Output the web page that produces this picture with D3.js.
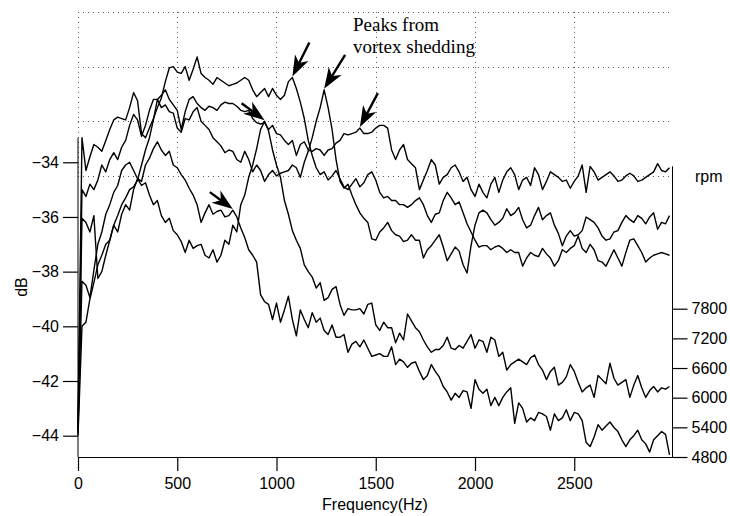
<!DOCTYPE html>
<html>
<head>
<meta charset="utf-8">
<script src="https://cdn.jsdelivr.net/npm/d3@7"></script>
<style>
  html, body { margin: 0; padding: 0; background: #fff; }
  svg { display: block; }
  .tick text, .axis-label { font-family: "Liberation Sans", Arial, Helvetica, sans-serif; font-size: 16px; fill: #000; }
  .note { font-family: "Liberation Serif", "Times New Roman", serif; font-size: 19px; fill: #000; }
</style>
</head>
<body>
<svg id="chart" width="730" height="516"></svg>
<script>
// Spectra sampled every 20 Hz from 0 to 2980 Hz (150 bins)
const freqStep = 20;
const frequencies = d3.range(0, 3000, freqStep);

// Spectrum levels in dB, one array per run (lowest to highest shedding frequency)
const seriesA = [
  -44.0, -40.0, -39.85, -39.0, -38.4, -37.75, -37.4, -37.0, -36.85, -36.3,
  -36.55, -35.9, -35.55, -35.75, -35.0, -34.6, -34.7, -34.1, -33.85, -33.5,
  -33.25, -33.55, -33.75, -33.6, -34.1, -34.2, -34.45, -34.65, -34.95, -35.2,
  -35.55, -36.2, -35.85, -35.55, -35.9, -35.8, -35.75, -36.0, -35.95, -35.75,
  -36.0, -36.4, -36.75, -37.2, -37.4, -37.65, -38.85, -39.1, -39.2, -39.75,
  -39.15, -39.85, -39.4, -38.9, -39.75, -40.35, -39.4, -39.75, -40.05, -39.5,
  -39.85, -39.7, -40.15, -40.3, -39.95, -40.4, -40.4, -40.3, -40.95, -40.65,
  -40.55, -40.75, -40.5, -40.8, -41.1, -41.05, -41.0, -41.1, -41.1, -40.75,
  -41.4, -41.2, -41.3, -41.5, -41.35, -41.3, -41.65, -41.95, -41.8, -41.4,
  -41.65, -41.85, -42.2, -42.4, -42.7, -42.45, -42.6, -42.35, -42.4, -43.0,
  -41.95, -42.3, -42.45, -42.3, -42.9, -42.6, -42.9, -42.6, -42.4, -42.25,
  -43.55, -42.8, -43.0, -43.5, -43.35, -43.45, -43.15, -43.2, -43.3, -43.8,
  -43.2, -43.45, -43.35, -43.05, -43.45, -43.15, -43.2, -43.45, -44.25, -44.4,
  -44.05, -43.6, -43.8, -43.65, -43.5, -43.7, -43.85, -44.15, -44.4, -44.15,
  -44.0, -43.8, -44.15, -44.3, -44.6, -44.15, -44.0, -43.85, -43.95, -44.7
];
const seriesB = [
  -43.8, -38.35, -38.5, -38.95, -37.95, -37.0, -36.55, -35.9, -35.55, -35.1,
  -34.85, -34.3, -34.1, -34.0, -34.3, -34.6, -34.85, -34.75, -35.2, -35.55,
  -35.4, -35.95, -36.2, -36.05, -36.5, -36.65, -36.9, -37.3, -36.85, -37.15,
  -37.05, -37.0, -37.4, -37.5, -37.2, -37.65, -37.4, -36.85, -37.0, -36.3,
  -36.55, -35.55, -35.2, -34.55, -34.1, -33.5, -32.8, -32.5, -32.85, -33.55,
  -34.1, -34.55, -35.4, -35.9, -36.5, -36.85, -37.15, -37.75, -38.0, -38.2,
  -38.6, -38.4, -39.05, -38.95, -38.65, -38.55, -39.2, -39.6, -39.35, -39.4,
  -39.4, -39.35, -39.55, -39.2, -39.15, -39.95, -40.15, -39.85, -40.05, -40.05,
  -40.6, -40.25, -40.5, -39.55, -39.8, -40.05, -40.2, -40.5, -40.75, -40.95,
  -40.85, -40.85, -40.7, -40.4, -40.8, -40.85, -40.7, -40.8, -40.55, -40.3,
  -40.8, -40.5, -40.55, -40.95, -40.4, -40.5, -41.1, -40.95, -41.6, -41.4,
  -41.3, -41.2, -41.3, -41.4, -41.15, -41.05, -41.4, -41.6, -41.95, -41.65,
  -41.5, -42.15, -42.05, -41.85, -41.4, -41.65, -42.05, -42.4, -42.25, -42.15,
  -42.6, -41.8, -41.95, -42.1, -41.35, -41.9, -42.15, -42.05, -41.95, -42.6,
  -42.15, -41.8, -42.25, -42.6, -42.35, -42.2, -42.4, -42.25, -42.3, -42.2
];
const seriesC = [
  -43.6, -33.1, -34.3, -33.8, -33.35, -33.45, -33.6, -33.2, -32.8, -32.45,
  -32.35, -32.4, -32.45, -32.0, -31.45, -31.75, -32.95, -33.1, -32.75, -32.4,
  -32.0, -31.65, -31.05, -30.55, -30.5, -30.7, -30.75, -30.5, -31.0, -30.6,
  -30.15, -30.75, -30.9, -31.0, -31.15, -30.9, -31.0, -31.1, -31.2, -31.15,
  -31.1, -31.0, -30.9, -31.0, -31.35, -31.6, -31.45, -31.3, -31.6, -31.3,
  -31.55, -31.7, -31.55, -31.05, -30.9, -31.3, -31.8, -32.4, -33.2, -33.75,
  -34.2, -34.45, -34.35, -34.65, -34.5, -34.3, -34.6, -34.9, -35.0, -34.8,
  -34.6, -34.9, -34.75, -34.45, -34.35, -34.65, -35.1, -35.3, -35.25, -35.4,
  -35.4, -35.55, -35.55, -35.65, -35.55, -35.4, -35.3, -35.55, -35.95, -36.2,
  -35.9, -35.85, -35.4, -35.1, -35.3, -35.55, -35.45, -35.85, -36.25, -36.55,
  -36.85, -37.1, -37.05, -37.05, -37.2, -37.1, -37.05, -37.15, -37.3, -37.2,
  -37.3, -37.3, -37.8, -37.5, -37.3, -37.4, -37.45, -37.15, -37.35, -37.5,
  -37.8, -37.6, -37.2, -37.3, -37.15, -37.05, -36.7, -37.15, -37.3, -37.0,
  -37.2, -37.6, -37.65, -37.8, -37.5, -37.2, -37.5, -37.8, -37.3, -36.85,
  -36.8, -37.05, -37.3, -37.65, -37.5, -37.4, -37.35, -37.3, -37.35, -37.4
];
const seriesD = [
  -43.9, -36.05, -36.2, -36.55, -35.95, -38.25, -38.0, -37.4, -36.85, -36.3,
  -35.95, -35.55, -35.3, -35.0, -34.9, -34.65, -34.1, -33.55, -33.1, -32.45,
  -31.7, -32.0, -31.9, -32.15, -32.2, -32.75, -32.9, -32.4, -32.45, -32.15,
  -32.0, -32.5, -32.65, -32.8, -33.1, -33.25, -33.4, -33.65, -33.55, -33.6,
  -33.9, -34.0, -33.6, -33.9, -34.35, -34.1, -34.3, -34.7, -34.45, -34.3,
  -34.5, -34.4, -34.35, -34.3, -34.1, -34.2, -34.55, -34.0, -33.6, -33.1,
  -32.5, -32.0, -31.35, -32.0, -32.8, -33.9, -34.7, -34.95, -34.8, -35.2,
  -35.55, -35.85, -36.05, -36.2, -36.8, -36.85, -36.55, -36.4, -36.2, -36.5,
  -36.65, -36.7, -36.9, -36.85, -36.65, -36.85, -36.85, -37.5, -37.2, -37.05,
  -36.85, -36.65, -37.1, -37.6, -37.35, -37.1, -37.25, -37.75, -38.05, -37.05,
  -36.3, -35.85, -35.75, -35.85, -36.1, -36.3, -36.2, -36.05, -35.7, -35.95,
  -35.85, -35.65, -36.1, -36.4, -36.3, -35.95, -35.65, -36.1, -35.95, -35.85,
  -36.3, -36.6, -37.05, -36.7, -36.5, -36.7, -36.65, -36.5, -36.0, -36.1,
  -36.2, -36.4, -36.7, -36.85, -36.8, -36.55, -36.5, -36.2, -35.95, -36.1,
  -36.2, -35.95, -36.05, -36.25, -36.0, -35.85, -36.45, -36.2, -36.25, -35.95
];
const seriesE = [
  -43.7, -35.0, -35.25, -34.8, -35.0, -34.65, -34.1, -34.35, -33.9, -33.65,
  -33.9, -33.45, -33.2, -32.65, -32.25, -32.45, -33.05, -32.65, -32.1, -31.7,
  -31.7, -31.55, -31.35, -31.7, -31.9, -32.1, -32.8, -32.15, -31.7, -31.6,
  -31.85, -32.0, -32.1, -31.95, -32.0, -32.1, -31.9, -31.8, -31.85, -31.85,
  -31.95, -32.1, -32.15, -32.1, -32.4, -32.55, -32.6, -32.55, -32.8, -32.65,
  -32.95, -33.0, -33.2, -33.35, -33.2, -33.75, -33.35, -33.25, -33.55, -33.6,
  -33.5, -33.55, -33.75, -33.55, -33.5, -33.3, -33.2, -32.95, -33.0, -32.95,
  -32.9, -32.75, -32.95, -32.95, -32.9, -32.75, -32.65, -32.65, -32.75, -33.55,
  -33.9, -33.55, -33.35, -33.9, -34.05, -34.2, -35.0, -34.65, -34.3, -33.9,
  -34.1, -34.8, -34.55, -34.45, -34.2, -34.1, -34.35, -34.7, -34.55, -35.0,
  -35.25, -34.8, -35.1, -35.3, -34.8, -34.55, -35.1, -34.65, -34.35, -34.2,
  -34.45, -35.0, -34.65, -34.55, -34.85, -34.2, -34.45, -35.0, -34.7, -34.35,
  -34.45, -34.55, -34.7, -34.65, -34.95, -34.7, -34.5, -34.1, -35.1, -34.15,
  -34.35, -34.65, -34.55, -34.45, -34.35, -34.5, -34.7, -34.65, -34.5, -34.4,
  -34.5, -34.7, -34.65, -34.55, -34.45, -34.35, -34.05, -34.3, -34.35, -34.2
];
const allSeries = [seriesA, seriesB, seriesC, seriesD, seriesE];

// Vortex-shedding peak frequency (Hz) of each run, in the same order
const sheddingPeaks = [780, 940, 1080, 1240, 1420];

// Axis ticks
const freqTicks = [0, 500, 1000, 1500, 2000, 2500];
const dbTicks = [-44, -42, -40, -38, -36, -34];
const rpmTicks = [4800, 5400, 6000, 6600, 7200, 7800];
const gridDb = [-28.5, -30.5, -32.5, -34.5];
const gridFreq = [500, 1000, 1500, 2000, 2500];

// ---- layout ----
const svg = d3.select("#chart");
const x = d3.scaleLinear().domain([0, 2995]).range([78, 672.5]);
const y = d3.scaleLinear().domain([-44.78, -28.43]).range([457, 10]);
const yRpm = d3.scaleLinear().domain([4800, 7800]).range([457, 308.7]);

// dotted reference grid over the upper part of the frame
const grid = svg.append("g").attr("stroke", "#555").attr("stroke-width", 1)
  .attr("stroke-dasharray", "1,4").attr("fill", "none");
gridDb.forEach(d => {
  grid.append("line").attr("x1", x(0)).attr("x2", x.range()[1])
    .attr("y1", Math.round(y(d)) + 0.5).attr("y2", Math.round(y(d)) + 0.5);
});
[0].concat(gridFreq).forEach(f => {
  grid.append("line").attr("x1", Math.round(x(f)) + 0.5).attr("x2", Math.round(x(f)) + 0.5)
    .attr("y1", y(gridDb[0])).attr("y2", y(gridDb[gridDb.length - 1]));
});

// axes
const xAxis = d3.axisBottom(x).tickValues(freqTicks).tickSize(14).tickPadding(7).tickSizeOuter(0)
  .tickFormat(d3.format("d"));
const gx = svg.append("g").attr("transform", `translate(0,${y(-44.78)})`).call(xAxis);

const yAxis = d3.axisLeft(y).tickValues(dbTicks).tickSize(15).tickPadding(4)
  .tickFormat(d => "\u2212" + Math.abs(d));
const gy = svg.append("g").attr("transform", `translate(${x(0)},0)`).call(yAxis);
gy.select(".domain").remove();
svg.append("line").attr("x1", x(0)).attr("x2", x(0))
  .attr("y1", y(-44.78)).attr("y2", y(-33.1)).attr("stroke", "#000");

const rAxis = d3.axisRight(yRpm).tickValues(rpmTicks).tickSize(15).tickPadding(4)
  .tickFormat(d3.format("d"));
const gr = svg.append("g").attr("transform", `translate(${x.range()[1]},0)`).call(rAxis);
gr.select(".domain").remove();
svg.append("line").attr("x1", x.range()[1]).attr("x2", x.range()[1])
  .attr("y1", y(-44.78)).attr("y2", y(-34.15)).attr("stroke", "#000");

[gx, gy, gr].forEach(g => {
  g.selectAll("line, path").attr("stroke", "#000").attr("stroke-width", 1.2);
  g.selectAll("text").attr("font-family", null).attr("font-size", null);
});

svg.append("text").attr("class", "axis-label")
  .attr("x", 375).attr("y", 510).attr("text-anchor", "middle").text("Frequency(Hz)");
svg.append("text").attr("class", "axis-label")
  .attr("transform", "translate(27,287) rotate(-90)").attr("text-anchor", "middle").text("dB");
svg.append("text").attr("class", "axis-label")
  .attr("x", 695).attr("y", 182).text("rpm");

// spectra
const line = d3.line().x((d, i) => x(frequencies[i])).y(d => y(d));
svg.append("g").selectAll("path").data(allSeries).join("path")
  .attr("d", line).attr("fill", "none").attr("stroke", "#000")
  .attr("stroke-width", 1.4).attr("stroke-linejoin", "round");

// arrows pointing at the shedding peaks (tail offset in px from the tip)
const arrowTails = [[-23, -17], [-23, -17], [17, -34], [21, -34], [18, -34]];
const arrows = svg.append("g");
sheddingPeaks.forEach((f, k) => {
  const idx = Math.round(f / freqStep);
  const tx = x(f), ty = y(allSeries[k][idx]) - 1;
  const [dx, dy] = arrowTails[k];
  const len = Math.hypot(dx, dy);
  const ang = Math.atan2(-dy, -dx) * 180 / Math.PI;
  const g = arrows.append("g").attr("transform", `translate(${tx},${ty}) rotate(${ang})`);
  g.append("line").attr("x1", -len).attr("x2", -12).attr("y1", 0).attr("y2", 0)
    .attr("stroke", "#000").attr("stroke-width", 2.4);
  g.append("path").attr("d", "M0,0 L-21,-7.5 L-15,0 L-21,7.5 Z").attr("fill", "#000");
});

svg.append("text").attr("class", "note").attr("x", 353).attr("y", 31).text("Peaks from");
svg.append("text").attr("class", "note").attr("x", 353).attr("y", 53).text("vortex shedding");
</script>
</body>
</html>
